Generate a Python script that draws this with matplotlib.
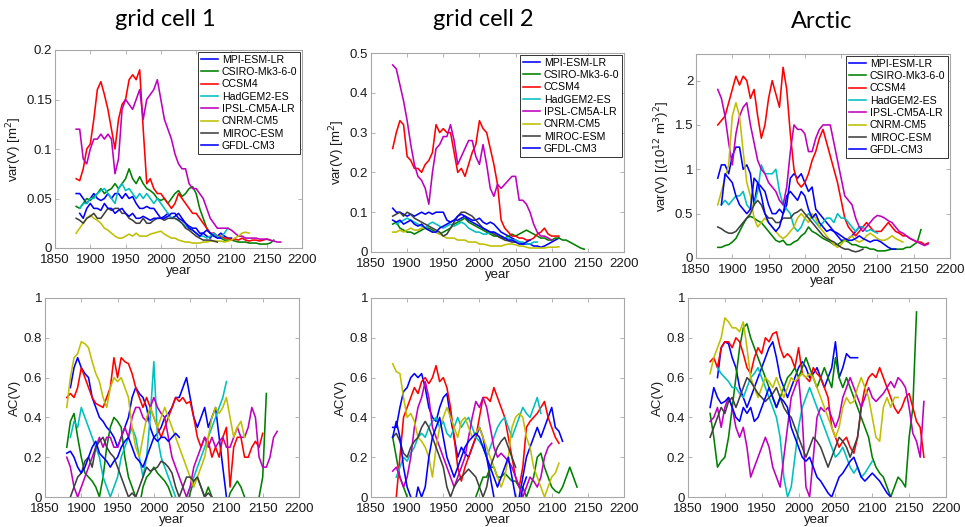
import numpy as np
import matplotlib
matplotlib.use("Agg")
import matplotlib.pyplot as plt

N = np.nan
START_YEAR = 1880
STEP = 5

models = ['MPI-ESM-LR', 'CSIRO-Mk3-6-0', 'CCSM4', 'HadGEM2-ES', 'IPSL-CM5A-LR',
          'CNRM-CM5', 'MIROC-ESM', 'GFDL-CM3']
colors = ['#0000ff', '#008000', '#ff0000', '#00bfbf', '#bf00bf', '#bfbf00', '#404040', '#0000ff']

panel_titles = ['grid cell 1', 'grid cell 2', 'Arctic']
xticks = [1850, 1900, 1950, 2000, 2050, 2100, 2150, 2200]

# ---------------- grid cell 1 : var(V) [m^2] ----------------
gc1_var_mpi = [0.055,0.055,0.05,0.045,0.05,0.055,0.05,0.048,0.05,0.055,0.05,0.055,0.055,0.05,0.055,0.05,0.052,0.045,0.04,0.04,0.042,0.04,0.04,0.035,0.03,0.032,0.035,0.03,0.032,0.035,0.03,0.025,0.022,0.02,0.02,0.015,0.015,0.012,0.01,0.015,0.012,0.015,0.012,0.01,0.01]
gc1_var_csiro = [0.042,0.04,0.045,0.05,0.048,0.052,0.055,0.06,0.055,0.058,0.06,0.065,0.06,0.065,0.07,0.08,0.07,0.065,0.072,0.065,0.06,0.058,0.055,0.05,0.048,0.05,0.045,0.05,0.055,0.058,0.052,0.055,0.06,0.062,0.055,0.04,0.03,0.02,0.015,0.012,0.012,0.01,0.008,0.008,0.008,0.007,0.006,0.006,0.006,0.005,0.005,0.005,0.004,0.004,0.004,0.005,0.008]
gc1_var_ccsm4 = [0.07,0.068,0.08,0.10,0.105,0.13,0.16,0.168,0.155,0.14,0.12,0.10,0.13,0.145,0.15,0.17,0.175,0.17,0.18,0.12,0.065,0.07,0.06,0.055,0.055,0.05,0.045,0.04,0.045,0.055,0.05,0.045,0.04,0.035,0.035,0.03,0.025,0.02,0.015,0.015,0.012,0.012,0.01,0.01,0.008,0.009,0.008,0.01,0.008,0.007,0.008,0.008,0.007,0.008,0.009,0.008]
gc1_var_hadgem = [N,0.04,0.045,0.045,0.05,0.05,0.055,0.058,0.06,0.055,0.05,0.045,0.06,0.065,0.058,0.06,0.055,0.05,0.055,0.05,0.055,0.05,0.045,0.05,0.045,0.04,0.035,0.03,0.03,0.028,0.025,0.022,0.02,0.018,0.015,0.012,0.012,0.01,0.012,0.015,0.012,0.01,0.015,0.02]
gc1_var_ipsl = [0.12,0.12,0.09,0.085,0.10,0.11,0.11,0.115,0.11,0.115,0.11,0.075,0.09,0.14,0.15,0.145,0.14,0.15,0.16,0.13,0.15,0.155,0.16,0.17,0.15,0.13,0.12,0.11,0.095,0.085,0.08,0.08,0.065,0.06,0.06,0.055,0.05,0.04,0.03,0.025,0.02,0.02,0.02,0.02,0.018,0.015,0.012,0.012,0.01,0.01,0.01,0.01,0.009,0.009,0.009,0.008,0.007,0.006,0.006]
gc1_var_cnrm = [0.015,0.02,0.025,0.03,0.033,0.03,0.028,0.025,0.02,0.018,0.015,0.012,0.01,0.01,0.012,0.014,0.012,0.015,0.012,0.012,0.012,0.014,0.015,0.016,0.017,0.014,0.012,0.01,0.01,0.008,0.007,0.006,0.006,0.005,0.005,0.005,0.006,0.006,0.007,0.007,0.007,0.007,0.006,0.007,0.008,0.01,0.012,0.015,0.016,0.015]
gc1_var_miroc = [0.03,0.028,0.025,0.03,0.032,0.035,0.03,0.03,0.035,0.04,0.038,0.04,0.04,0.035,0.035,0.03,0.028,0.025,0.025,0.03,0.025,0.025,0.028,0.03,0.03,0.028,0.03,0.03,0.03,0.028,0.025,0.02,0.018,0.015,0.012,0.01,0.008,0.008,0.008,0.007,0.006]
gc1_var_gfdl = [N,0.035,0.03,0.04,0.045,0.04,0.04,0.038,0.045,0.04,0.04,0.035,0.038,0.04,0.035,0.032,0.035,0.03,0.03,0.032,0.03,0.028,0.03,0.03,0.03,0.03,0.032,0.035,0.035,0.03,0.028,0.025,0.02,0.018,0.015,0.012,0.015,0.018,0.015,0.012,0.01,0.01]

# ---------------- grid cell 2 : var(V) [m^2] ----------------
gc2_var_mpi = [0.11,0.10,0.10,0.095,0.09,0.095,0.09,0.095,0.10,0.095,0.10,0.095,0.10,0.10,0.10,0.08,0.075,0.08,0.08,0.085,0.09,0.085,0.08,0.08,0.085,0.075,0.07,0.075,0.07,0.06,0.05,0.045,0.04,0.035,0.03,0.025,0.02,0.02,0.02,0.015,0.015,0.012,0.015,0.02,0.025,0.03,0.035]
gc2_var_csiro = [0.07,0.075,0.06,0.055,0.05,0.05,0.045,0.05,0.055,0.06,0.06,0.055,0.05,0.045,0.05,0.055,0.06,0.07,0.075,0.08,0.085,0.075,0.07,0.065,0.06,0.055,0.05,0.045,0.04,0.04,0.035,0.035,0.04,0.045,0.04,0.045,0.05,0.055,0.05,0.045,0.04,0.035,0.035,0.03,0.03,0.035,0.035,0.03,0.03,0.025,0.02,0.015,0.01,0.007]
gc2_var_ccsm4 = [0.26,0.30,0.33,0.32,0.24,0.23,0.21,0.21,0.20,0.22,0.23,0.25,0.32,0.30,0.31,0.30,0.30,0.25,0.20,0.21,0.19,0.22,0.25,0.27,0.33,0.31,0.30,0.26,0.22,0.17,0.08,0.06,0.05,0.04,0.04,0.035,0.035,0.03,0.03,0.035,0.045,0.05,0.06,0.045,0.04,0.04,0.04]
gc2_var_hadgem = [N,0.07,0.075,0.08,0.085,0.08,0.075,0.07,0.065,0.06,0.07,0.075,0.07,0.065,0.06,0.065,0.07,0.065,0.07,0.075,0.07,0.06,0.055,0.05,0.05,0.045,0.045,0.05,0.05,0.045,0.04,0.035,0.035,0.03,0.03,0.025,0.025,0.02,0.02,0.025,0.025]
gc2_var_ipsl = [0.47,0.46,0.42,0.38,0.33,0.27,0.22,0.19,0.18,0.16,0.12,0.20,0.26,0.27,0.29,0.29,0.32,0.28,0.22,0.24,0.26,0.28,0.28,0.24,0.22,0.27,0.22,0.16,0.14,0.17,0.16,0.17,0.18,0.19,0.19,0.13,0.13,0.12,0.10,0.07,0.05,0.04,0.04,0.035,0.03]
gc2_var_cnrm = [0.05,0.05,0.055,0.05,0.055,0.06,0.055,0.055,0.06,0.06,0.055,0.05,0.05,0.045,0.04,0.035,0.035,0.035,0.03,0.03,0.03,0.025,0.025,0.025,0.02,0.02,0.018,0.015,0.015,0.015,0.015,0.018,0.02,0.02,0.018,0.015,0.015,0.012,0.01,0.01,0.01,0.01,0.01,0.012,0.012,0.012,0.013]
gc2_var_miroc = [0.09,0.095,0.10,0.09,0.10,0.095,0.085,0.08,0.075,0.07,0.065,0.06,0.055,0.05,0.04,0.045,0.06,0.075,0.09,0.10,0.10,0.095,0.09,0.08,0.07,0.06,0.055,0.05,0.045,0.04,0.035,0.03,0.028,0.025,0.025]
gc2_var_gfdl = [0.08,0.075,0.08,0.07,0.075,0.08,0.07,0.065,0.07,0.06,0.055,0.05,0.05,0.06,0.065,0.07,0.075,0.08,0.09,0.095,0.09,0.08,0.075,0.07,0.065,0.06,0.055,0.05,0.05,0.045,0.04,0.035,0.03,0.03,0.025,0.02,0.02,0.025,0.03]

# ---------------- Arctic : var(V) [(10^12 m^3)^2] ----------------
arc_var_mpi = [0.9,1.05,1.05,0.95,1.15,1.25,1.25,1.0,1.05,0.95,0.6,0.85,0.8,0.75,0.6,0.5,0.5,0.55,0.5,0.6,0.9,0.95,0.9,0.95,0.85,0.75,0.8,0.55,0.5,0.45,0.4,0.35,0.3,0.25,0.2,0.2,0.22,0.25,0.3,0.35,0.35]
arc_var_csiro = [0.12,0.12,0.14,0.15,0.18,0.22,0.3,0.38,0.45,0.47,0.45,0.42,0.4,0.35,0.3,0.25,0.2,0.18,0.2,0.15,0.15,0.18,0.2,0.25,0.28,0.35,0.3,0.28,0.25,0.22,0.2,0.18,0.15,0.15,0.18,0.2,0.18,0.15,0.15,0.13,0.12,0.12,0.1,0.1,0.08,0.08,0.08,0.09,0.1,0.1,0.1,0.1,0.12,0.12,0.15,0.18,0.32]
arc_var_ccsm4 = [1.5,1.55,1.6,1.75,1.9,2.05,1.95,2.05,2.0,1.8,1.9,1.6,1.35,1.5,1.8,2.0,1.85,1.7,2.15,1.9,1.4,1.0,0.85,0.8,0.85,0.95,1.1,1.2,1.35,1.45,1.3,1.15,1.0,0.85,0.65,0.45,0.35,0.3,0.25,0.3,0.35,0.4,0.35,0.3,0.3,0.3,0.35,0.4,0.35,0.3,0.28,0.25,0.25,0.22,0.2,0.18,0.18,0.15,0.17]
arc_var_hadgem = [N,0.6,0.65,0.6,0.65,0.7,0.7,0.75,0.6,0.55,0.6,0.75,1.05,0.95,0.95,0.95,1.0,0.75,0.6,0.55,0.5,0.35,0.3,0.35,0.45,0.5,0.45,0.4,0.35,0.4,0.45,0.45,0.4,0.5,0.45,0.45,0.4,0.35,0.3,0.35,0.35,0.3,0.32,0.3,0.28]
arc_var_ipsl = [1.9,1.8,1.6,1.3,1.05,1.4,1.6,1.7,1.75,1.5,1.3,1.1,1.0,0.95,0.85,0.8,0.75,0.65,0.6,0.8,1.2,1.5,1.45,1.45,1.4,1.2,1.2,1.35,1.45,1.5,1.5,1.5,1.3,1.1,0.9,0.7,0.65,0.6,0.45,0.35,0.3,0.35,0.4,0.45,0.48,0.47,0.45,0.42,0.4,0.35,0.3,0.28,0.25,0.22,0.2,0.18,0.16,0.14,0.16]
arc_var_cnrm = [0.6,0.75,0.9,1.05,1.6,1.75,1.6,1.2,0.85,0.7,0.45,0.35,0.4,0.45,0.4,0.35,0.3,0.25,0.22,0.25,0.3,0.35,0.45,0.5,0.45,0.4,0.5,0.45,0.35,0.3,0.25,0.2,0.15,0.12,0.15,0.2,0.22,0.25,0.2,0.18,0.2,0.25,0.28,0.25,0.22,0.2,0.2,0.22,0.25,0.22,0.2,0.18]
arc_var_miroc = [0.35,0.33,0.3,0.28,0.28,0.3,0.35,0.4,0.45,0.5,0.6,0.65,0.6,0.5,0.45,0.45,0.4,0.4,0.45,0.45,0.45,0.5,0.52,0.55,0.5,0.45,0.4,0.35,0.3,0.25,0.22,0.2,0.18,0.15,0.12,0.1,0.1,0.08,0.07,0.08,0.1]
arc_var_gfdl = [N,0.6,0.95,0.9,0.85,0.7,0.6,0.55,0.5,0.55,0.9,0.85,0.7,0.5,0.4,0.35,0.3,0.35,0.5,0.7,0.75,0.7,0.65,0.75,0.7,0.55,0.45,0.5,0.4,0.35,0.3,0.32,0.3,0.28,0.25,0.22,0.2,0.2,0.22,0.25,0.22,0.2,0.18,0.2,0.2,0.18,0.15,0.12,0.1,0.1]

# ---------------- grid cell 1 : AC(V) ----------------
gc1_ac_mpi = [N,0.55,0.65,0.7,0.65,0.62,0.6,0.5,0.45,0.4,0.38,0.35,0.33,0.3,0.25,0.3,0.35,0.4,0.5,0.55,0.52,0.5,0.45,0.35,0.3,0.32,0.35,0.4,0.42,0.45,0.5,0.5,0.55,0.6,0.5,0.4,0.35,0.4,0.45,0.35,0.4,0.45,0.3,0.15,0.0]
gc1_ac_csiro = [0.25,0.38,0.42,0.3,0.2,0.12,0.1,0.08,0.05,0.0,0.1,0.25,0.35,0.4,0.38,0.35,0.2,0.1,0.05,0.0,-0.05,0.05,0.1,0.12,0.15,0.12,0.1,0.08,0.05,0.0,-0.05,-0.05,-0.05,-0.05,0.02,0.08,0.1,0.05,0.0,0.05,0.0,-0.05,-0.05,-0.05,-0.05,0.02,0.05,0.08,0.05,0.0,-0.05,-0.05,-0.05,0.0,0.1,0.52]
gc1_ac_ccsm4 = [0.5,0.52,0.5,0.55,0.65,0.6,0.55,0.5,0.47,0.46,0.45,0.5,0.55,0.7,0.6,0.7,0.68,0.67,0.62,0.55,0.5,0.45,0.5,0.45,0.4,0.35,0.3,0.35,0.4,0.45,0.5,0.48,0.5,0.47,0.48,0.4,0.3,0.25,0.3,0.28,0.2,0.25,0.2,0.3,0.35,0.05,0.25,0.3,0.3,0.2,0.2,0.25,0.28,0.25,0.32]
gc1_ac_hadgem = [N,0.3,0.38,0.35,0.45,0.4,0.35,0.3,0.25,0.2,0.1,0.05,0.0,0.05,0.1,0.2,0.25,0.3,0.35,0.3,0.2,0.1,0.2,0.4,0.68,0.3,0.2,0.15,0.1,0.05,0.0,-0.05,-0.05,0.0,0.05,0.1,0.15,0.2,0.25,0.3,0.35,0.4,0.45,0.5,0.58]
gc1_ac_ipsl = [0.2,0.15,0.05,0.0,0.05,0.1,0.15,0.2,0.25,0.3,0.25,0.3,0.3,0.25,0.25,0.3,0.35,0.3,0.4,0.45,0.45,0.4,0.38,0.45,0.5,0.45,0.42,0.4,0.3,0.2,0.15,0.1,0.05,0.0,0.05,0.15,0.2,0.25,0.3,0.25,0.3,0.25,0.28,0.3,0.25,0.25,0.3,0.35,0.3,0.3,0.35,0.45,0.4,0.2,0.15,0.15,0.2,0.3,0.33]
gc1_ac_cnrm = [0.45,0.6,0.7,0.72,0.78,0.77,0.75,0.68,0.62,0.58,0.5,0.45,0.55,0.6,0.58,0.6,0.55,0.5,0.35,0.25,0.2,0.3,0.4,0.45,0.4,0.35,0.4,0.45,0.4,0.35,0.3,0.25,0.2,0.15,0.1,0.05,0.1,0.15,0.2,0.3,0.4,0.45,0.42,0.45,0.5,0.4,0.3,0.35,0.38,0.3]
gc1_ac_miroc = [N,0.0,0.05,0.1,0.12,0.18,0.2,0.15,0.25,0.28,0.3,0.25,0.22,0.2,0.15,0.1,0.05,0.0,0.02,0.0,0.05,0.1,0.15,0.13,0.14,0.15,0.18,0.17,0.15,0.12,0.05,0.0,0.05,0.1,0.1,0.08,0.1,0.05,0.0,0.02,0.0]
gc1_ac_gfdl = [0.22,0.23,0.2,0.15,0.12,0.15,0.2,0.25,0.28,0.22,0.2,0.18,0.15,0.18,0.2,0.25,0.28,0.3,0.25,0.2,0.18,0.15,0.2,0.25,0.3,0.28,0.3,0.3,0.28,0.3,0.32,0.3]

# ---------------- grid cell 2 : AC(V) ----------------
gc2_ac_mpi = [0.35,0.35,0.45,0.53,0.55,0.6,0.62,0.6,0.62,0.55,0.45,0.4,0.38,0.45,0.5,0.52,0.4,0.3,0.2,0.25,0.22,0.2,0.25,0.3,0.35,0.3,0.2,0.1,0.0,-0.05,-0.05,-0.05,-0.05,-0.05,-0.05,0.0,0.1,0.2,0.25,0.3,0.35,0.3,0.35,0.4,0.45,0.35,0.33,0.28]
gc2_ac_csiro = [0.3,0.2,0.1,0.05,0.0,-0.05,-0.05,-0.05,-0.05,-0.05,-0.05,-0.05,-0.05,-0.05,-0.05,-0.05,-0.05,-0.05,-0.05,-0.05,-0.05,-0.05,-0.05,0.0,0.05,0.1,0.1,0.15,0.15,0.1,0.1,0.12,0.1,0.08,0.08,0.05,0.05,0.0,0.05,0.1,0.2,0.22,0.15,0.1,0.05,0.03,0.02,0.05,0.1,0.15,0.1,0.05]
gc2_ac_ccsm4 = [N,0.0,0.2,0.4,0.45,0.5,0.55,0.52,0.58,0.6,0.57,0.6,0.66,0.58,0.6,0.55,0.45,0.3,0.15,0.08,0.15,0.2,0.25,0.3,0.4,0.5,0.5,0.48,0.55,0.5,0.45,0.4,0.3,0.2,0.1,0.05,0.15,0.35,0.38,0.4,0.42,0.45,0.48,0.4,0.35,0.3,0.27]
gc2_ac_hadgem = [N,0.1,0.15,0.2,0.18,0.22,0.25,0.3,0.32,0.3,0.35,0.38,0.4,0.35,0.38,0.32,0.3,0.35,0.4,0.35,0.38,0.4,0.35,0.3,0.28,0.25,0.2,0.25,0.3,0.35,0.38,0.4,0.35,0.3,0.35,0.4,0.45,0.42,0.4,0.45,0.5,0.42]
gc2_ac_ipsl = [0.13,0.15,0.1,0.05,0.1,0.2,0.35,0.45,0.5,0.58,0.5,0.35,0.3,0.25,0.2,0.15,0.1,0.05,0.1,0.15,0.2,0.3,0.4,0.48,0.45,0.5,0.45,0.35,0.25,0.2,0.22,0.2,0.18,0.15,0.1,0.05,0.0,0.05,0.1,0.08,0.05,0.1,0.2,0.25,0.27]
gc2_ac_cnrm = [0.67,0.63,0.62,0.5,0.4,0.42,0.38,0.3,0.28,0.25,0.2,0.1,0.25,0.35,0.4,0.45,0.4,0.35,0.3,0.38,0.4,0.35,0.3,0.32,0.35,0.3,0.25,0.2,0.15,0.1,0.05,0.1,0.2,0.35,0.4,0.42,0.4,0.3,0.25,0.15,0.1,0.05,0.0,0.05,0.1,0.12,0.17]
gc2_ac_miroc = [0.3,0.32,0.28,0.22,0.2,0.25,0.28,0.3,0.35,0.38,0.35,0.3,0.25,0.2,0.15,0.05,0.0,0.05,0.08,0.1,0.12,0.14,0.12,0.1,0.05,0.0,0.05,0.15,0.2,0.25,0.28,0.3,0.25,0.2,0.15]
gc2_ac_gfdl = [0.3,0.38,0.3,0.15,0.05,0.0,-0.05,0.05,0.0,0.05,0.2,0.3,0.35,0.4,0.3,0.2,0.15,0.1,0.15,0.2,0.25,0.28,0.3,0.32,0.3,0.25,0.2,0.15,0.1,0.05,0.1,0.15,0.2,0.1,0.0,-0.05,0.05,0.1]

# ---------------- Arctic : AC(V) ----------------
arc_ac_mpi = [N,N,0.6,0.75,0.78,0.77,0.7,0.65,0.55,0.5,0.45,0.5,0.55,0.6,0.65,0.7,0.75,0.78,0.7,0.6,0.55,0.5,0.55,0.6,0.65,0.68,0.65,0.6,0.62,0.65,0.6,0.55,0.6,0.65,0.78,0.6,0.65,0.72,0.7,0.7,0.7]
arc_ac_csiro = [0.42,0.3,0.15,0.18,0.2,0.3,0.45,0.6,0.75,0.85,0.87,0.8,0.75,0.7,0.65,0.6,0.55,0.5,0.45,0.5,0.55,0.6,0.62,0.65,0.6,0.65,0.7,0.65,0.6,0.55,0.6,0.65,0.6,0.55,0.7,0.6,0.55,0.6,0.55,0.5,0.45,0.4,0.35,0.3,0.2,0.15,0.12,0.1,0.05,0.0,0.05,0.1,0.08,0.05,0.3,0.45,0.93]
arc_ac_ccsm4 = [0.68,0.7,0.65,0.75,0.78,0.78,0.75,0.8,0.78,0.72,0.65,0.62,0.7,0.75,0.72,0.8,0.78,0.82,0.83,0.75,0.7,0.72,0.7,0.65,0.75,0.62,0.6,0.58,0.65,0.62,0.6,0.55,0.5,0.35,0.3,0.25,0.28,0.3,0.25,0.22,0.3,0.45,0.55,0.6,0.62,0.6,0.65,0.6,0.55,0.5,0.45,0.42,0.45,0.5,0.52,0.45,0.38,0.35,0.2]
arc_ac_hadgem = [N,N,0.65,0.62,0.6,0.58,0.55,0.55,0.52,0.5,0.55,0.6,0.62,0.65,0.6,0.55,0.5,0.45,0.4,0.3,0.1,0.0,0.05,0.2,0.35,0.45,0.5,0.55,0.5,0.45,0.4,0.35,0.3,0.25,0.2,0.22,0.25,0.2,0.15,0.12,0.15,0.1,0.12,0.15,0.18]
arc_ac_ipsl = [0.38,0.4,0.45,0.35,0.45,0.5,0.45,0.35,0.3,0.35,0.25,0.1,0.15,0.2,0.25,0.3,0.25,0.15,0.1,0.05,0.2,0.35,0.5,0.55,0.6,0.4,0.05,0.0,0.2,0.4,0.45,0.43,0.45,0.4,0.35,0.4,0.5,0.55,0.6,0.55,0.5,0.45,0.5,0.55,0.5,0.48,0.5,0.52,0.55,0.58,0.55,0.6,0.58,0.55,0.45,0.32,0.28,0.2,0.48]
arc_ac_cnrm = [0.62,0.7,0.75,0.8,0.9,0.88,0.85,0.85,0.83,0.88,0.75,0.6,0.55,0.5,0.55,0.6,0.58,0.55,0.6,0.55,0.5,0.55,0.6,0.58,0.6,0.62,0.6,0.62,0.6,0.55,0.5,0.45,0.4,0.35,0.3,0.35,0.45,0.5,0.47,0.48,0.55,0.6,0.55,0.5,0.4,0.3,0.28,0.45,0.5,0.45,0.5,0.5]
arc_ac_miroc = [0.3,0.35,0.4,0.45,0.42,0.48,0.5,0.45,0.5,0.55,0.6,0.58,0.55,0.52,0.5,0.48,0.5,0.52,0.55,0.5,0.45,0.42,0.4,0.35,0.3,0.25,0.2,0.25,0.3,0.28,0.25,0.2,0.15,0.2,0.25,0.3,0.28,0.25,0.2,0.25,0.3,0.45]
arc_ac_gfdl = [0.45,0.55,0.5,0.47,0.48,0.5,0.45,0.4,0.38,0.45,0.42,0.45,0.38,0.4,0.45,0.5,0.55,0.5,0.45,0.5,0.48,0.45,0.35,0.3,0.25,0.2,0.18,0.2,0.15,0.1,0.08,0.05,0.02,0.0,0.05,0.1,0.12,0.15,0.18,0.2,0.15,0.1,0.08,0.1,0.12,0.1,0.08,0.05,0.02,0.0]

var_panels = [
    [gc1_var_mpi, gc1_var_csiro, gc1_var_ccsm4, gc1_var_hadgem, gc1_var_ipsl, gc1_var_cnrm, gc1_var_miroc, gc1_var_gfdl],
    [gc2_var_mpi, gc2_var_csiro, gc2_var_ccsm4, gc2_var_hadgem, gc2_var_ipsl, gc2_var_cnrm, gc2_var_miroc, gc2_var_gfdl],
    [arc_var_mpi, arc_var_csiro, arc_var_ccsm4, arc_var_hadgem, arc_var_ipsl, arc_var_cnrm, arc_var_miroc, arc_var_gfdl],
]
ac_panels = [
    [gc1_ac_mpi, gc1_ac_csiro, gc1_ac_ccsm4, gc1_ac_hadgem, gc1_ac_ipsl, gc1_ac_cnrm, gc1_ac_miroc, gc1_ac_gfdl],
    [gc2_ac_mpi, gc2_ac_csiro, gc2_ac_ccsm4, gc2_ac_hadgem, gc2_ac_ipsl, gc2_ac_cnrm, gc2_ac_miroc, gc2_ac_gfdl],
    [arc_ac_mpi, arc_ac_csiro, arc_ac_ccsm4, arc_ac_hadgem, arc_ac_ipsl, arc_ac_cnrm, arc_ac_miroc, arc_ac_gfdl],
]
var_ylims = [(0, 0.2), (0, 0.5), (0, 2.3)]
var_yticks = [[0, 0.05, 0.1, 0.15, 0.2], [0, 0.1, 0.2, 0.3, 0.4, 0.5], [0, 0.5, 1, 1.5, 2]]
var_yticklabels = [['0', '0.05', '0.1', '0.15', '0.2'], ['0', '0.1', '0.2', '0.3', '0.4', '0.5'],
                   ['0', '0.5', '1', '1.5', '2']]
var_ylabels = [r'var(V) [m$^2$]', r'var(V) [m$^2$]', r'var(V) [(10$^{12}$ m$^3$)$^2$]']
ac_yticks = [0, 0.2, 0.4, 0.6, 0.8, 1]
ac_yticklabels = ['0', '0.2', '0.4', '0.6', '0.8', '1']

plt.rcParams['font.family'] = ['Liberation Sans', 'DejaVu Sans']
W, H = 965, 527
fig = plt.figure(figsize=(W / 100, H / 100), dpi=100)

top_boxes = [(55, 50, 302, 248), (371, 53, 624, 252), (696, 54, 950, 258)]
bot_boxes = [(45, 298, 299, 497), (371, 298, 624, 497), (688, 298, 946, 497)]
title_pos = [(165, 20), (483, 20), (822, 22)]


def make_ax(box):
    l, t, r, b = box
    return fig.add_axes([l / W, 1 - b / H, (r - l) / W, (b - t) / H])


def style(ax):
    for s in ax.spines.values():
        s.set_color('#a8a8a8')
        s.set_linewidth(0.8)
    ax.tick_params(direction='in', length=3, width=0.6, color='#a8a8a8', labelsize=9.5,
                   labelcolor='#1a1a1a', top=True, right=True)
    ax.tick_params(axis='x', pad=4.5)
    ax.tick_params(axis='y', pad=2)
    ax.set_xlim(1850, 2200)
    ax.set_xticks(xticks)
    ax.set_xlabel('year', fontsize=9.5, labelpad=-1, color='#1a1a1a')


for p in range(3):
    ax = make_ax(top_boxes[p])
    for i, vals in enumerate(var_panels[p]):
        yrs = START_YEAR + STEP * np.arange(len(vals))
        ax.plot(yrs, vals, color=colors[i], lw=1.15, label=models[i])
    style(ax)
    ax.set_ylim(*var_ylims[p])
    ax.set_yticks(var_yticks[p])
    ax.set_yticklabels(var_yticklabels[p])
    ax.set_ylabel(var_ylabels[p], fontsize=9.5, labelpad=2, color='#1a1a1a')
    leg = ax.legend(loc='upper right', fontsize=7.6, handlelength=1.6, handletextpad=0.35,
                    labelspacing=0.22, borderpad=0.3, borderaxespad=0.15, frameon=True,
                    fancybox=False, framealpha=1)
    leg.get_frame().set_edgecolor('#333333')
    leg.get_frame().set_linewidth(0.7)
    fig.text(title_pos[p][0] / W, 1 - title_pos[p][1] / H, panel_titles[p],
             fontsize=17, family='Lato', ha='center', va='center')

for p in range(3):
    ax = make_ax(bot_boxes[p])
    for i, vals in enumerate(ac_panels[p]):
        yrs = START_YEAR + STEP * np.arange(len(vals))
        ax.plot(yrs, vals, color=colors[i], lw=1.15)
    style(ax)
    ax.set_ylim(0, 1)
    ax.set_yticks(ac_yticks)
    ax.set_yticklabels(ac_yticklabels)
    ax.set_ylabel('AC(V)', fontsize=9.5, labelpad=2, color='#1a1a1a')

fig.savefig('out.png', dpi=100)
